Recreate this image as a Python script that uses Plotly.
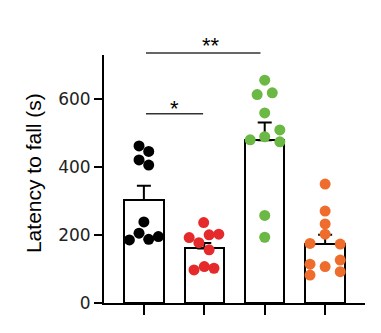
import plotly.graph_objects as go

# ---- data ----
groups = ["G1", "G2", "G3", "G4"]
bar_means = [302, 160, 478, 173]
bar_sem = [42, 16, 52, 27]

vals_black = [461, 445, 420, 405, 238, 205, 185, 187, 195]
vals_red = [236, 192, 200, 202, 177, 156, 97, 107, 102]
vals_green = [654, 612, 617, 558, 508, 479, 488, 473, 257, 193]
vals_orange = [349, 270, 232, 202, 175, 173, 114, 107, 126, 82, 92]

y_ticks = [0, 200, 400, 600]
y_tick_labels = ["0", "200", "400", "600"]

# ---- layout / style (positions of scattered dots relative to bar centre) ----
jit_black = [-0.08, 0.08, -0.08, 0.08, 0.0, -0.08, -0.24, 0.08, 0.24]
jit_red = [-0.01, -0.25, 0.08, 0.24, -0.09, 0.08, -0.17, 0.0, 0.16]
jit_green = [0.0, -0.125, 0.125, 0.0, 0.25, -0.24, 0.0, 0.25, 0.0, 0.0]
jit_orange = [0.0, 0.0, 0.0, 0.0, -0.25, 0.25, -0.25, 0.0, 0.25, -0.25, 0.25]

colors = ["#000000", "#e52a2c", "#6bb845", "#ee6d2c"]
series = [vals_black, vals_red, vals_green, vals_orange]
jitters = [jit_black, jit_red, jit_green, jit_orange]

fig = go.Figure()
fig.add_trace(go.Bar(
    x=list(range(len(groups))), y=bar_means, width=0.65,
    marker=dict(color="white", line=dict(color="black", width=2)),
    error_y=dict(type="data", symmetric=False, array=bar_sem,
                 arrayminus=[0] * len(bar_sem), color="black",
                 thickness=2, width=7),
    hoverinfo="skip", showlegend=False,
))
for i, (vals, jit, col) in enumerate(zip(series, jitters, colors)):
    fig.add_trace(go.Scatter(
        x=[i + j for j in jit], y=vals, mode="markers",
        marker=dict(color=col, size=11, line=dict(width=0)),
        hoverinfo="skip", showlegend=False, cliponaxis=False,
    ))

# significance brackets
fig.add_shape(type="line", xref="x", yref="paper", x0=0.035, x1=0.98,
              y0=0.763, y1=0.763, line=dict(color="#333", width=1.5))
fig.add_shape(type="line", xref="x", yref="paper", x0=0.035, x1=1.93,
              y0=1.008, y1=1.008, line=dict(color="#333", width=1.5))
fig.add_annotation(xref="x", yref="paper", x=0.5, y=0.842, text="*",
                   showarrow=False, font=dict(family="Arial", size=22, color="black"))
fig.add_annotation(xref="x", yref="paper", x=1.115, y=1.096, text="**",
                   showarrow=False, font=dict(family="Arial", size=22, color="black"))
# axis title
fig.add_annotation(xref="paper", yref="paper", x=-0.272, y=0.524,
                   text="Latency to fall (s)", textangle=-90, showarrow=False,
                   xanchor="center", yanchor="middle",
                   font=dict(family="Arial", size=21, color="black"))

fig.update_layout(
    width=381, height=333,
    margin=dict(l=104, r=16, t=55, b=30),
    paper_bgcolor="white", plot_bgcolor="white",
    bargap=0,
    xaxis=dict(range=[-0.66, 3.66], tickvals=list(range(len(groups))),
               showticklabels=False, ticks="outside", ticklen=10, tickwidth=2,
               tickcolor="black", showline=True, linecolor="black", linewidth=2,
               showgrid=False, zeroline=False, fixedrange=True),
    yaxis=dict(range=[0, 728], tickvals=y_ticks, ticktext=y_tick_labels,
               ticks="outside", ticklen=8, tickwidth=2, tickcolor="black",
               showline=True, linecolor="black", linewidth=2,
               showgrid=False, zeroline=False, fixedrange=True,
               tickfont=dict(family="DejaVu Sans", size=17, color="#222")),
)

fig.write_html("out.html", config={"displayModeBar": False})
